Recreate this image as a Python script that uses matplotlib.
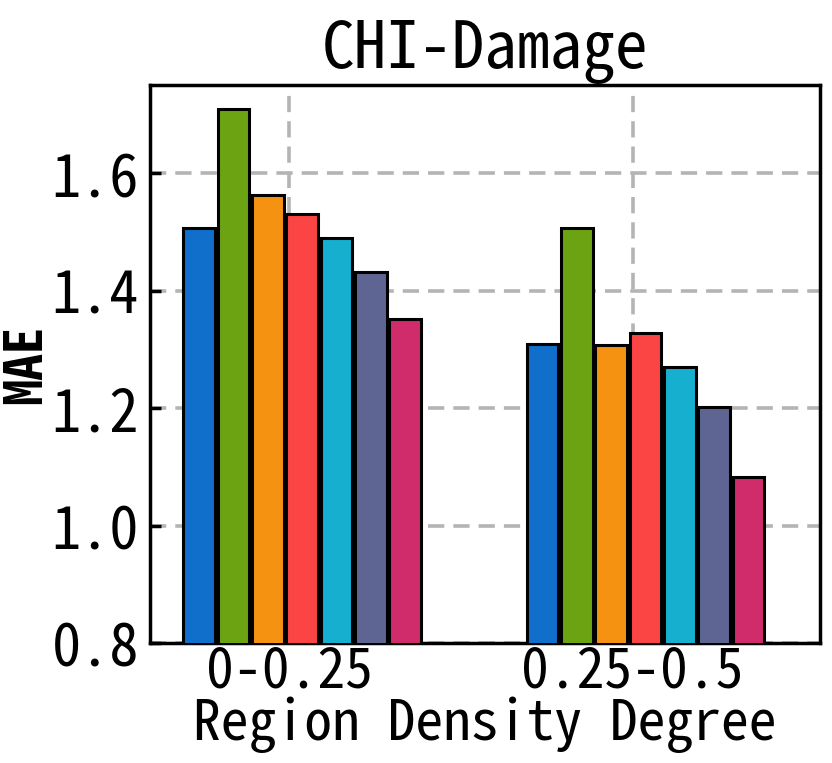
import matplotlib
matplotlib.use("Agg")
import matplotlib.pyplot as plt
import numpy as np

plt.rcParams['font.family'] = ['Noto Sans Mono CJK SC', 'Noto Sans CJK SC', 'DejaVu Sans']

groups = ["0-0.25", "0.25-0.5"]
colors = ["#0f6fcb", "#6ba312", "#f59212", "#fb4545", "#17afcf", "#5f6593", "#d02b6a"]
mae = [
    [1.507, 1.309],
    [1.709, 1.507],
    [1.562, 1.307],
    [1.530, 1.328],
    [1.489, 1.270],
    [1.432, 1.202],
    [1.351, 1.082],
]

width = 0.092
step = 0.1
ind = np.arange(len(groups))

fig = plt.figure(figsize=(8.32, 7.63), dpi=100)
ax = fig.add_axes([150 / 832, 1 - 643 / 763, 670 / 832, 558 / 763])

for i, vals in enumerate(mae):
    ax.bar(ind + i * step, vals, width, color=colors[i], edgecolor="black",
           linewidth=2.2, zorder=3)

ax.set_xticks(ind + 0.262)
ax.set_xticklabels(groups)
ax.set_xlim(-0.1435, 1.808)
ax.set_ylim(0.8, 1.75)
ax.set_yticks([0.8, 1.0, 1.2, 1.4, 1.6])
ax.set_yticklabels(["0.8", "1.0", "1.2", "1.4", "1.6"])

ax.grid(True, linestyle=(0, (4.5, 2.5)), color="#b4b4b4", linewidth=2.6, zorder=0)
for s in ax.spines.values():
    s.set_linewidth(2.5)
ax.tick_params(axis="y", direction="in", length=8, width=2.5, labelsize=42, pad=8)
ax.tick_params(axis="x", length=0, labelsize=40, pad=1)

ax.set_title("CHI-Damage", fontsize=47, pad=12)
ax.set_xlabel("Region Density Degree", fontsize=40, labelpad=-2)
ax.set_ylabel("MAE", fontsize=38, fontweight="bold", labelpad=0)

fig.savefig("out.png", dpi=100)
